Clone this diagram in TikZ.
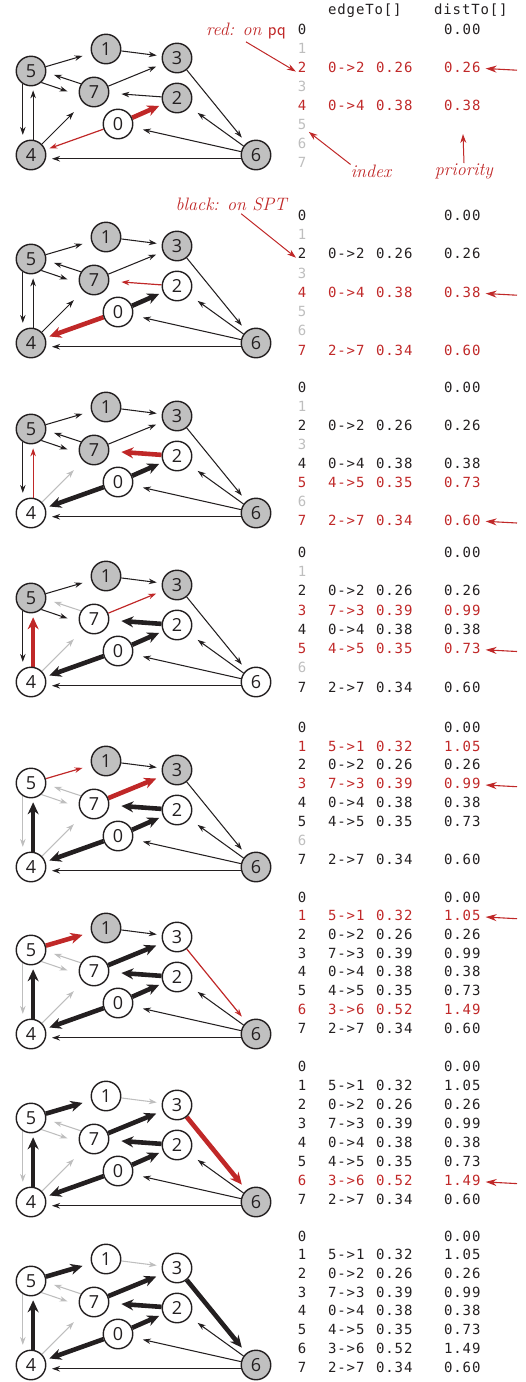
\documentclass[tikz,border=0pt]{standalone}
\usepackage{fontspec}
\usetikzlibrary{arrows.meta,backgrounds}
\newfontfamily\tabfont[LetterSpace=6]{DejaVu Sans Mono}
\newfontfamily\vfont{Open Sans}
\definecolor{myred}{RGB}{192,40,40}
\definecolor{nodegray}{RGB}{192,192,192}
\definecolor{lightgr}{RGB}{190,190,190}
\definecolor{ink}{RGB}{35,31,32}
\tikzset{
 vtx/.style={circle, draw=ink, line width=1.4pt, minimum size=29.5pt, inner sep=0pt, font=\vfont\fontsize{18}{18}\selectfont, text=ink},
 pqv/.style={fill=nodegray},
 donev/.style={fill=white},
 ethin/.style={draw=ink, line width=1.05pt, -{Stealth[length=8pt,width=5.5pt]}},
 grayed/.style={draw=lightgr, line width=1.05pt, -{Stealth[length=8pt,width=5.5pt]}},
 redthin/.style={draw=myred, line width=1.2pt, -{Stealth[length=8pt,width=5.5pt]}},
 redthick/.style={draw=myred, line width=4.6pt, -{Stealth[length=12pt,width=11pt]}},
 blackthick/.style={draw=ink, line width=4.6pt, -{Stealth[length=12pt,width=11pt]}},
 tcell/.style={font=\tabfont\fontsize{14}{14}\selectfont, inner sep=0pt, anchor=mid, text=ink},
 lbl/.style={font=\itshape\fontsize{18}{18}\selectfont, text=myred, inner sep=0pt},
 annot/.style={draw=myred, line width=1pt, -{Stealth[length=9pt,width=6pt]}},
 rowarrow/.style={draw=myred, line width=1.1pt, -{Stealth[length=11pt,width=7pt]}, shorten >=5pt},
}
\newcommand\resetst{\tikzset{
 e51/.style=ethin, e13/.style=ethin, e73/.style=ethin, e75/.style=ethin, e57/.style=ethin,
 e27/.style=ethin, e02/.style=ethin, e04/.style=ethin, e47/.style=ethin, e54/.style=ethin,
 e45/.style=ethin, e36/.style=ethin, e62/.style=ethin, e60/.style=ethin, e64/.style=ethin,
 v0/.style=pqv, v1/.style=pqv, v2/.style=pqv, v3/.style=pqv, v4/.style=pqv, v5/.style=pqv,
 v6/.style=pqv, v7/.style=pqv}}
\newcommand\drawgraph[2]{%
 \begin{scope}[shift={(0,#2)}]
 \node[vtx,v5] (#1n5) at (31,-84) {5};
 \node[vtx,v1] (#1n1) at (106,-106) {1};
 \node[vtx,v3] (#1n3) at (177,-97) {3};
 \node[vtx,v7] (#1n7) at (94,-63) {7};
 \node[vtx,v2] (#1n2) at (177,-57) {2};
 \node[vtx,v0] (#1n0) at (118,-31) {0};
 \node[vtx,v4] (#1n4) at (31,0) {4};
 \node[vtx,v6] (#1n6) at (256,0) {6};
 \end{scope}
 \begin{pgfonlayer}{background}
 \draw[e51,shorten >=9pt] (#1n5) -- (#1n1);
 \draw[e13,shorten >=5pt] (#1n1) -- (#1n3);
 \draw[e73,shorten >=7pt] (#1n7) -- (#1n3);
 \draw[e75,shorten >=8pt] (#1n7.148) -- (#1n5.-5);
 \draw[e57,shorten >=12pt] (#1n5.-48) -- (#1n7.192);
 \draw[e27,shorten >=12pt] (#1n2) -- (#1n7);
 \draw[e02,shorten >=4pt] (#1n0) -- (#1n2);
 \draw[e04,shorten >=4pt] (#1n0) -- (#1n4);
 \draw[e47,shorten >=13pt] (#1n4) -- (#1n7);
 \draw[e54,shorten >=7pt] (#1n5.238) -- (#1n4.122);
 \draw[e45,shorten >=4pt] (#1n4.82) -- (#1n5.278);
 \draw[e36,shorten >=7pt] (#1n3) -- (#1n6);
 \draw[e62,shorten >=10pt] (#1n6) -- (#1n2);
 \draw[e60,shorten >=10pt] (#1n6) -- (#1n0);
 \draw[e64,shorten >=6pt] (#1n6.194) -- (#1n4.-14);
 \end{pgfonlayer}}
\newcommand\Yz{0}
\newcommand\Dy{19}
\newcommand\trI[3]{\node[tcell,text=#3] (#1i#2) at (302,{\Yz+\Dy*#2}) {#2};}
\newcommand\trZ[1]{\node[tcell] (#1i0) at (302,\Yz) {0};
 \node[tcell,anchor=mid west] (#1d0) at (444,\Yz) {0.00};}
\newcommand\trF[6]{%
 \node[tcell,text=#3] (#1i#2) at (302,{\Yz+\Dy*#2}) {#2};
 \node[tcell,text=#3,anchor=mid west] (#1e#2) at (328,{\Yz+\Dy*#2}) {#4};
 \node[tcell,text=#3,anchor=mid west] (#1w#2) at (376,{\Yz+\Dy*#2}) {#5};
 \node[tcell,text=#3,anchor=mid west] (#1d#2) at (444,{\Yz+\Dy*#2}) {#6};}
\newcommand\rowarr[2]{\coordinate (#1a#2) at (517,{\Yz+\Dy*#2});
 \draw[rowarrow] (#1a#2) -- (#1d#2);}
\begin{document}
\begin{tikzpicture}[x=1pt,y=-1pt]
\useasboundingbox (0,0) rectangle (526,1382);
\node[tcell,anchor=mid west] (hdre) at (328,12) {edgeTo[]};
\node[tcell,anchor=mid west] (hdrd) at (434,12) {distTo[]};
% ---------- panel 1
\resetst
\tikzset{v0/.style=donev, e02/.style=redthick, e04/.style=redthin}
\drawgraph{a}{155}
\renewcommand\Yz{32}\renewcommand\Dy{19.1}
\trZ{a}
\trI{a}{1}{lightgr}
\trF{a}{2}{myred}{0->2}{0.26}{0.26}
\trI{a}{3}{lightgr}
\trF{a}{4}{myred}{0->4}{0.38}{0.38}
\trI{a}{5}{lightgr}
\trI{a}{6}{lightgr}
\trI{a}{7}{lightgr}
\rowarr{a}{2}
\node[lbl,anchor=mid east] (lblred) at (286,33) {red: on {\upshape\sffamily pq}};
\draw[annot,shorten >=2pt] ([yshift=-3pt]lblred.south) -- (ai2.south west);
\node[lbl] (lblidx) at (371,171) {index};
\draw[annot,shorten >=3pt] (lblidx.north west) -- (ai5.south east);
\node[lbl] (lblpri) at (464,171) {priority};
\coordinate (pritip) at (463,134);
\draw[annot] (lblpri.north) -- (pritip);
% ---------- panel 2
\resetst
\tikzset{v0/.style=donev, v2/.style=donev, e02/.style=blackthick, e04/.style=redthick, e27/.style=redthin}
\drawgraph{b}{343}
\renewcommand\Yz{218}\renewcommand\Dy{19.3}
\trZ{b}
\trI{b}{1}{lightgr}
\trF{b}{2}{ink}{0->2}{0.26}{0.26}
\trI{b}{3}{lightgr}
\trF{b}{4}{myred}{0->4}{0.38}{0.38}
\trI{b}{5}{lightgr}
\trI{b}{6}{lightgr}
\trF{b}{7}{myred}{2->7}{0.34}{0.60}
\rowarr{b}{4}
\node[lbl,anchor=mid east] (lblblack) at (287,208) {black: on SPT};
\draw[annot,shorten >=2pt] ([xshift=10pt,yshift=-3pt]lblblack.south) -- (bi2.south west);
% ---------- panel 3
\resetst
\tikzset{v0/.style=donev, v2/.style=donev, v4/.style=donev, e02/.style=blackthick, e04/.style=blackthick, e27/.style=redthick, e45/.style=redthin, e47/.style=grayed}
\drawgraph{c}{513}
\renewcommand\Yz{390}\renewcommand\Dy{19.0}
\trZ{c}
\trI{c}{1}{lightgr}
\trF{c}{2}{ink}{0->2}{0.26}{0.26}
\trI{c}{3}{lightgr}
\trF{c}{4}{ink}{0->4}{0.38}{0.38}
\trF{c}{5}{myred}{4->5}{0.35}{0.73}
\trI{c}{6}{lightgr}
\trF{c}{7}{myred}{2->7}{0.34}{0.60}
\rowarr{c}{7}
% ---------- panel 4
\resetst
\tikzset{v0/.style=donev, v2/.style=donev, v4/.style=donev, v7/.style=donev, v6/.style=donev, e02/.style=blackthick, e04/.style=blackthick, e27/.style=blackthick, e45/.style=redthick, e73/.style=redthin, e75/.style=grayed, e47/.style=grayed}
\drawgraph{d}{682}
\renewcommand\Yz{555}\renewcommand\Dy{19.3}
\trZ{d}
\trI{d}{1}{lightgr}
\trF{d}{2}{ink}{0->2}{0.26}{0.26}
\trF{d}{3}{myred}{7->3}{0.39}{0.99}
\trF{d}{4}{ink}{0->4}{0.38}{0.38}
\trF{d}{5}{myred}{4->5}{0.35}{0.73}
\trI{d}{6}{lightgr}
\trF{d}{7}{ink}{2->7}{0.34}{0.60}
\rowarr{d}{5}
% ---------- panel 5
\resetst
\tikzset{v0/.style=donev, v2/.style=donev, v4/.style=donev, v7/.style=donev, v5/.style=donev, e02/.style=blackthick, e04/.style=blackthick, e27/.style=blackthick, e45/.style=blackthick, e73/.style=redthick, e51/.style=redthin, e75/.style=grayed, e57/.style=grayed, e54/.style=grayed, e47/.style=grayed}
\drawgraph{e}{867}
\renewcommand\Yz{730}\renewcommand\Dy{18.9}
\trZ{e}
\trF{e}{1}{myred}{5->1}{0.32}{1.05}
\trF{e}{2}{ink}{0->2}{0.26}{0.26}
\trF{e}{3}{myred}{7->3}{0.39}{0.99}
\trF{e}{4}{ink}{0->4}{0.38}{0.38}
\trF{e}{5}{ink}{4->5}{0.35}{0.73}
\trI{e}{6}{lightgr}
\trF{e}{7}{ink}{2->7}{0.34}{0.60}
\rowarr{e}{3}
% ---------- panel 6
\resetst
\tikzset{v0/.style=donev, v2/.style=donev, v4/.style=donev, v7/.style=donev, v5/.style=donev, v3/.style=donev, e02/.style=blackthick, e04/.style=blackthick, e27/.style=blackthick, e45/.style=blackthick, e73/.style=blackthick, e51/.style=redthick, e36/.style=redthin, e75/.style=grayed, e57/.style=grayed, e54/.style=grayed, e47/.style=grayed}
\drawgraph{f}{1034}
\renewcommand\Yz{900}\renewcommand\Dy{18.7}
\trZ{f}
\trF{f}{1}{myred}{5->1}{0.32}{1.05}
\trF{f}{2}{ink}{0->2}{0.26}{0.26}
\trF{f}{3}{ink}{7->3}{0.39}{0.99}
\trF{f}{4}{ink}{0->4}{0.38}{0.38}
\trF{f}{5}{ink}{4->5}{0.35}{0.73}
\trF{f}{6}{myred}{3->6}{0.52}{1.49}
\trF{f}{7}{ink}{2->7}{0.34}{0.60}
\rowarr{f}{1}
% ---------- panel 7
\resetst
\tikzset{v0/.style=donev, v1/.style=donev, v2/.style=donev, v3/.style=donev, v4/.style=donev, v5/.style=donev, v7/.style=donev, e02/.style=blackthick, e04/.style=blackthick, e27/.style=blackthick, e45/.style=blackthick, e73/.style=blackthick, e51/.style=blackthick, e36/.style=redthick, e13/.style=grayed, e75/.style=grayed, e57/.style=grayed, e54/.style=grayed, e47/.style=grayed}
\drawgraph{g}{1202}
\renewcommand\Yz{1069}\renewcommand\Dy{19.1}
\trZ{g}
\trF{g}{1}{ink}{5->1}{0.32}{1.05}
\trF{g}{2}{ink}{0->2}{0.26}{0.26}
\trF{g}{3}{ink}{7->3}{0.39}{0.99}
\trF{g}{4}{ink}{0->4}{0.38}{0.38}
\trF{g}{5}{ink}{4->5}{0.35}{0.73}
\trF{g}{6}{myred}{3->6}{0.52}{1.49}
\trF{g}{7}{ink}{2->7}{0.34}{0.60}
\rowarr{g}{6}
% ---------- panel 8
\resetst
\tikzset{v0/.style=donev, v1/.style=donev, v2/.style=donev, v3/.style=donev, v4/.style=donev, v5/.style=donev, v7/.style=donev, e02/.style=blackthick, e04/.style=blackthick, e27/.style=blackthick, e45/.style=blackthick, e73/.style=blackthick, e51/.style=blackthick, e36/.style=blackthick, e13/.style=grayed, e75/.style=grayed, e57/.style=grayed, e54/.style=grayed, e47/.style=grayed}
\drawgraph{h}{1365}
\renewcommand\Yz{1239}\renewcommand\Dy{18.7}
\trZ{h}
\trF{h}{1}{ink}{5->1}{0.32}{1.05}
\trF{h}{2}{ink}{0->2}{0.26}{0.26}
\trF{h}{3}{ink}{7->3}{0.39}{0.99}
\trF{h}{4}{ink}{0->4}{0.38}{0.38}
\trF{h}{5}{ink}{4->5}{0.35}{0.73}
\trF{h}{6}{ink}{3->6}{0.52}{1.49}
\trF{h}{7}{ink}{2->7}{0.34}{0.60}
\end{tikzpicture}
\end{document}
